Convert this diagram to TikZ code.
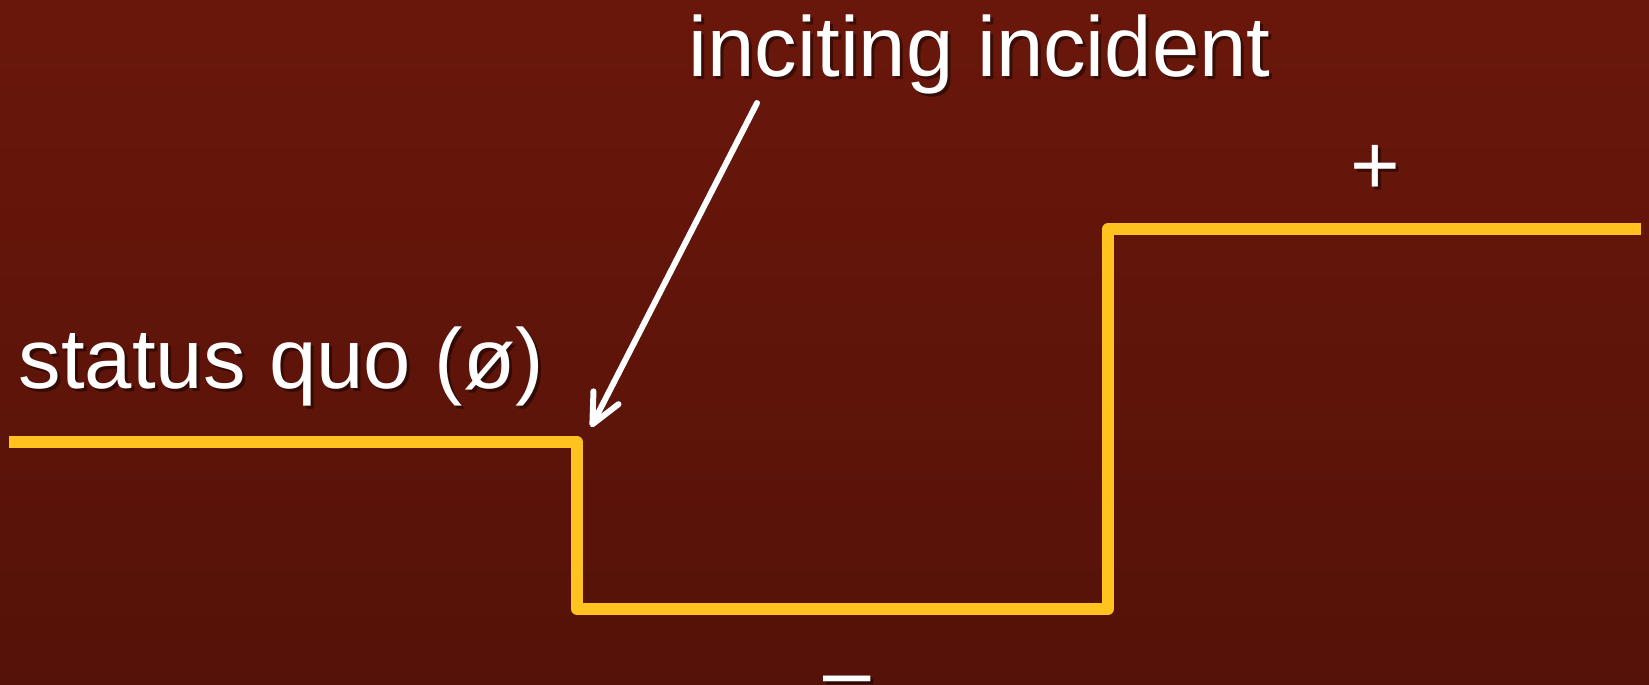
\documentclass[tikz,border=0pt]{standalone}
\usepackage{fontspec}
\setmainfont{Liberation Sans}
\usetikzlibrary{arrows.meta}
\definecolor{bgtop}{HTML}{6A170B}
\definecolor{bgbot}{HTML}{551208}
\definecolor{gold}{HTML}{FFC21F}
\begin{document}
\begin{tikzpicture}[x=0.01cm,y=-0.01cm,
  lbl/.style={text=white, inner sep=0pt, font=\fontsize{24.2}{29}\selectfont},
  lblsh/.style={text=black, text opacity=0.45, inner sep=0pt, font=\fontsize{24.2}{29}\selectfont},
  stairs/.style={draw=gold, line width=3.4pt, line join=round, line cap=butt},
  stairsh/.style={draw=black, draw opacity=0.3, line width=3.4pt, line join=round, line cap=butt},
  pointer/.style={draw=white, line width=1.7pt, line cap=round, -{Straight Barb[length=8.5pt,width=8pt,round]}},
  pointersh/.style={draw=black, draw opacity=0.35, line width=1.7pt, line cap=round, -{Straight Barb[length=8.5pt,width=8pt,round]}}
]
\useasboundingbox (0,0) rectangle (1649,684);
\shade[top color=bgtop, bottom color=bgbot] (0,0) rectangle (1649,684);

% staircase line
\coordinate (s0) at (9,442);
\coordinate (s1) at (577,442);
\coordinate (s2) at (577,609);
\coordinate (s3) at (1108,609);
\coordinate (s4) at (1108,229);
\coordinate (s5) at (1641,229);
\draw[stairsh, shift={(3,3)}] (s0) -- (s1) -- (s2) -- (s3) -- (s4) -- (s5);
\draw[stairs] (s0) -- (s1) -- (s2) -- (s3) -- (s4) -- (s5);

% arrow
\coordinate (a0) at (757,103);
\coordinate (a1) at (591,427);
\draw[pointersh, shift={(3,3)}] (a0) -- (a1);
\draw[pointer] (a0) -- (a1);

% labels (with soft drop shadow)
\node[lblsh, anchor=base west] (incsh) at (691,79) {inciting incident};
\node[lbl, anchor=base west] (inc) at (688,76) {inciting incident};
\node[lblsh, anchor=base west] (sqsh) at (21,391) {status quo (ø)};
\node[lbl, anchor=base west] (sq) at (18,388) {status quo (ø)};
\node[lblsh, anchor=base] (plussh) at (1378,197) {+};
\node[lbl, anchor=base] (plus) at (1375,194) {+};
\node[lblsh, anchor=base] (minussh) at (850,703) {–};
\node[lbl, anchor=base] (minus) at (847,700) {–};
\end{tikzpicture}
\end{document}
